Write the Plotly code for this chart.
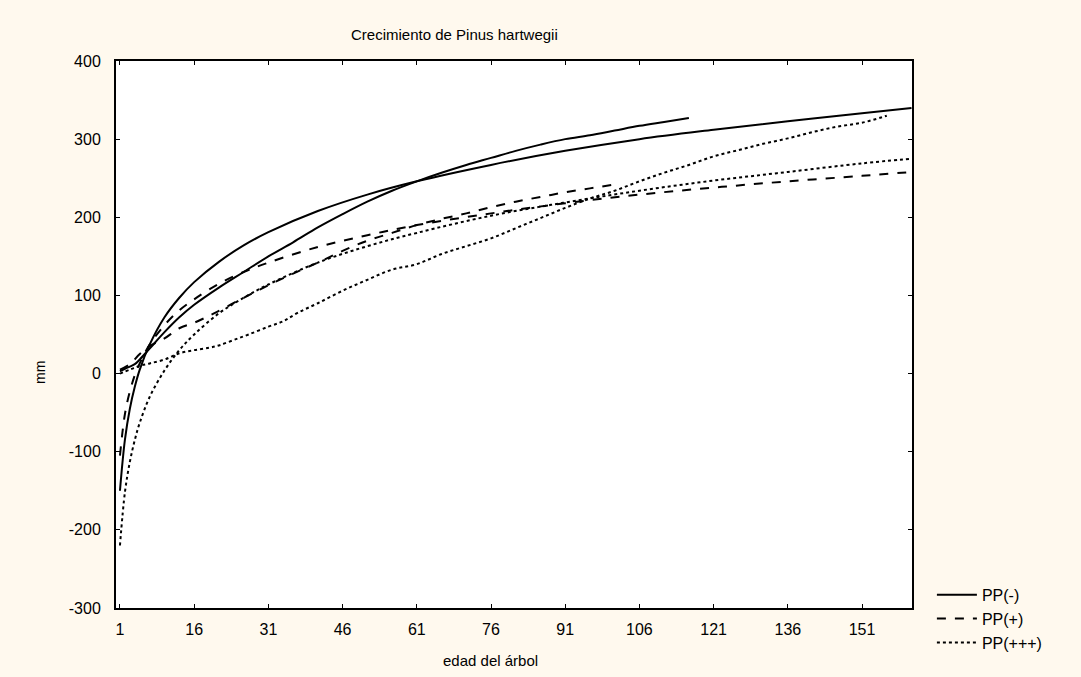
import plotly.graph_objects as go

# PP(-) observed (solid)
x_neg_obs = [1, 2, 3, 4, 5, 7, 10, 13, 16, 21, 26, 31, 36, 41, 46, 51, 56, 61, 66, 71, 76, 81, 86, 91, 96, 101, 106, 111, 116]
y_neg_obs = [3, 6, 9, 12, 18, 32, 53, 72, 88, 110, 130, 150, 168, 187, 204, 220, 234, 246, 257, 267, 276, 285, 293, 300, 305, 311, 317, 322, 327]
# PP(-) fitted (solid)
x_neg_fit = [1, 2, 3, 4, 5, 7, 10, 13, 16, 21, 26, 31, 41, 51, 61, 76, 91, 106, 121, 136, 151, 161]
y_neg_fit = [-150, -85, -45, -17, 5, 37, 72, 97, 117, 143, 164, 181, 208, 229, 246, 267, 285, 300, 312, 323, 333, 340]

# PP(+) observed (dashed)
x_pos_obs = [1, 3, 5, 7, 10, 13, 16, 20, 26, 31, 36, 41, 46, 51, 56, 61, 66, 71, 76, 81, 86, 91, 96, 101]
y_pos_obs = [5, 12, 25, 35, 45, 58, 65, 77, 97, 113, 128, 142, 157, 170, 180, 190, 198, 205, 213, 220, 226, 232, 237, 242]
# PP(+) fitted (dashed)
x_pos_fit = [1, 2, 3, 4, 5, 7, 10, 13, 16, 21, 26, 31, 41, 51, 61, 76, 91, 106, 121, 136, 151, 161]
y_pos_fit = [-105, -52, -23, -2, 13, 37, 62, 81, 95, 115, 130, 142, 162, 177, 190, 205, 218, 229, 238, 246, 253, 258]

# PP(+++) observed (dotted)
x_ppp_obs = [1, 3, 5, 7, 10, 13, 16, 19, 21, 24, 27, 31, 34, 37, 41, 46, 51, 56, 61, 66, 71, 76, 81, 86, 91, 96, 101,
             106, 111, 116, 121, 126, 131, 136, 141, 146, 151, 156]
y_ppp_obs = [0, 5, 10, 13, 18, 26, 30, 33, 36, 43, 50, 60, 67, 78, 90, 106, 120, 133, 140, 153, 163, 173, 186, 199, 212, 224, 234,
             246, 257, 267, 278, 286, 294, 301, 309, 316, 321, 330]
# PP(+++) fitted (dotted)
x_ppp_fit = [1, 2, 3, 4, 5, 7, 10, 13, 16, 21, 26, 31, 41, 51, 61, 76, 91, 106, 121, 136, 151, 161]
y_ppp_fit = [-220, -152, -113, -85, -63, -30, 4, 30, 50, 77, 97, 114, 142, 163, 180, 202, 219, 234, 247, 258, 269, 275]

x_ticks = [1, 16, 31, 46, 61, 76, 91, 106, 121, 136, 151]
y_ticks = [-300, -200, -100, 0, 100, 200, 300, 400]

series = [
    ("PP(-)", "solid", x_neg_obs, y_neg_obs, x_neg_fit, y_neg_fit),
    ("PP(+)", "dash", x_pos_obs, y_pos_obs, x_pos_fit, y_pos_fit),
    ("PP(+++)", "dot", x_ppp_obs, y_ppp_obs, x_ppp_fit, y_ppp_fit),
]

fig = go.Figure()
for name, dash, xo, yo, xf, yf in series:
    fig.add_trace(go.Scatter(x=xo, y=yo, mode="lines", name=name, legendgroup=name,
                             line=dict(color="black", width=2, dash=dash, shape="spline")))
    fig.add_trace(go.Scatter(x=xf, y=yf, mode="lines", name=name, legendgroup=name, showlegend=False,
                             line=dict(color="black", width=2, dash=dash, shape="spline")))

axis_common = dict(showline=True, linecolor="black", linewidth=2, mirror="ticks", ticks="inside",
                   ticklen=4, tickcolor="black", showgrid=False, zeroline=False,
                   tickfont=dict(family="Arial, Liberation Sans", size=16, color="black"))

fig.update_xaxes(range=[0.2, 161.1], tickvals=x_ticks, ticktext=[str(v) for v in x_ticks],
                 ticklabelstandoff=6, **axis_common)
fig.update_yaxes(range=[-300, 400], tickvals=y_ticks, ticktext=[str(v) for v in y_ticks],
                 ticklabelstandoff=10, **axis_common)

fig.update_layout(
    width=1081, height=677,
    paper_bgcolor="#FFF9EE", plot_bgcolor="white",
    margin=dict(l=116, r=169, t=61, b=69),
    showlegend=True,
    legend=dict(x=1.025, y=0.055, xanchor="left", yanchor="top", bgcolor="rgba(0,0,0,0)",
                font=dict(family="Arial, Liberation Sans", size=16, color="black"),
                itemwidth=40, tracegroupgap=0),
    annotations=[
        dict(text="Crecimiento de Pinus hartwegii", xref="paper", yref="paper",
             x=(454 - 116) / 796, y=1 + (61 - 35) / 547, xanchor="center", yanchor="middle",
             showarrow=False, font=dict(family="Arial, Liberation Sans", size=15, color="black")),
        dict(text="edad del árbol", xref="paper", yref="paper",
             x=(490 - 116) / 796, y=-(660 - 608) / 547, xanchor="center", yanchor="middle",
             showarrow=False, font=dict(family="Arial, Liberation Sans", size=15, color="black")),
        dict(text="mm", xref="paper", yref="paper", textangle=-90,
             x=-(116 - 40) / 796, y=(608 - 373) / 547, xanchor="center", yanchor="middle",
             showarrow=False, font=dict(family="Arial, Liberation Sans", size=14, color="black")),
    ],
)

fig.write_html("out.html")
